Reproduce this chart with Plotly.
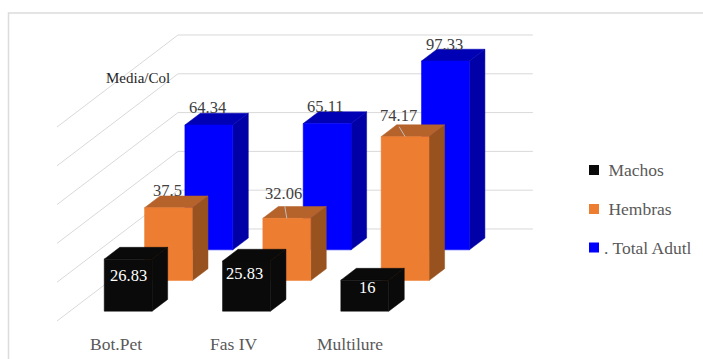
import plotly.graph_objects as go

# Chart data
categories = ["Bot.Pet", "Fas IV", "Multilure"]
machos = [26.83, 25.83, 16]
hembras = [37.5, 32.06, 74.17]
total_adultos = [64.34, 65.11, 97.33]
value_ticks = [0, 20, 40, 60, 80, 100]
legend_names = [" Machos", " Hembras", ". Total Adutl"]
value_axis_title = "Media/Col"

# Oblique projection of the 3D column chart: (category, depth, value) -> canvas units
ORIGIN_X, ORIGIN_Y = 57.0, 321.0
CAT_STEP = 118.3
DEPTH_DX, DEPTH_DY = 40.33, -30.67
VALUE_SCALE = 1.94


def project(cat, depth, value):
    return (ORIGIN_X + CAT_STEP * cat + DEPTH_DX * depth,
            ORIGIN_Y + DEPTH_DY * depth - VALUE_SCALE * value)


BAR_LEFT = 0.29
BAR_WIDTH = 0.405
BAR_GAP = 0.32
BAR_DEPTH = 0.385

# front, top, side colours for each series
series = [
    dict(values=machos, slot=0, colors=("#0a0a0a", "#0a0a0a", "#0a0a0a"),
         text="#ffffff", key="#0a0a0a"),
    dict(values=hembras, slot=1, colors=("#ed7d31", "#b5622b", "#97521f"),
         text="#404040", key="#ed7d31"),
    dict(values=total_adultos, slot=2, colors=("#0000ff", "#0000b4", "#0000a6"),
         text="#404040", key="#0000ff"),
]

# Nudges of the value labels from the centre of each column's front top edge
label_nudges = {
    0: [(0.7, 16.7), (-1.6, 12), (3, 7)],
    1: [(-0.7, -17), (-3, -25), (-6.5, -21.5)],
    2: [(-1, -18), (-1.6, -16.7), (-1, -16.7)],
}
# Leader lines (series slot, category) -> nudge of the line's upper end
leaders = {(1, 1): (-2, -12), (1, 2): (-6, -10)}
category_nudges = [0, 0, -3]

SERIF = "Liberation Serif"
fig = go.Figure()

# Wall gridlines: side wall then back wall at every value tick
grid_x, grid_y = [], []
for v in value_ticks:
    for cat, depth in [(0, 0), (0, 3), (3, 3)]:
        x, y = project(cat, depth, v)
        grid_x.append(x)
        grid_y.append(y)
    grid_x.append(None)
    grid_y.append(None)
fig.add_trace(go.Scatter(x=grid_x, y=grid_y, mode="lines", hoverinfo="skip",
                         line=dict(color="#d9d9d9", width=1), showlegend=False))


def add_face(points, color, name):
    xs = [p[0] for p in points] + [points[0][0]]
    ys = [p[1] for p in points] + [points[0][1]]
    fig.add_trace(go.Scatter(x=xs, y=ys, mode="lines", fill="toself", fillcolor=color,
                             line=dict(color=color, width=0.5), name=name,
                             hoverinfo="skip", showlegend=False))


annotations = []


def add_text(x, y, text, size=16.5, color="#404040"):
    annotations.append(dict(x=x, y=y, xref="x", yref="y", text=text, showarrow=False,
                            xanchor="center", yanchor="middle",
                            font=dict(family=SERIF, size=size, color=color)))


# Columns are painted from the back row forwards so nearer ones cover farther ones
for s in sorted(series, key=lambda item: -item["slot"]):
    front_col, top_col, side_col = s["colors"]
    d0 = s["slot"] + BAR_GAP
    d1 = d0 + BAR_DEPTH
    for i, v in enumerate(s["values"]):
        c0 = i + BAR_LEFT
        c1 = c0 + BAR_WIDTH
        name = f"{categories[i]} {s['slot']}"
        add_face([project(c1, d0, 0), project(c1, d1, 0), project(c1, d1, v), project(c1, d0, v)],
                 side_col, name)
        add_face([project(c0, d0, v), project(c1, d0, v), project(c1, d1, v), project(c0, d1, v)],
                 top_col, name)
        add_face([project(c0, d0, 0), project(c1, d0, 0), project(c1, d0, v), project(c0, d0, v)],
                 front_col, name)

# Value labels and their leader lines sit on top of every column
for s in series:
    for i, v in enumerate(s["values"]):
        x, y = project(i + BAR_LEFT + BAR_WIDTH / 2, s["slot"] + BAR_GAP, v)
        dx, dy = label_nudges[s["slot"]][i]
        add_text(x + dx, y + dy, f"{v:g}", color=s["text"])
        if (s["slot"], i) in leaders:
            lx, ly = leaders[(s["slot"], i)]
            fig.add_trace(go.Scatter(x=[x, x + lx], y=[y, y + ly], mode="lines",
                                     hoverinfo="skip", showlegend=False,
                                     line=dict(color="#bfbfbf", width=1)))

# Category labels along the front edge of the floor
for i, cat in enumerate(categories):
    x, _ = project(i + 0.5, 0, 0)
    add_text(x + category_nudges[i], 344, cat, size=17.5, color="#595959")

add_text(137.7, 77.5, value_axis_title, size=15, color="#262626")

# Legend keys and names on the right of the plot
for s, label, y in zip(series, legend_names, [170, 209, 247.5]):
    fig.add_trace(go.Scatter(x=[594], y=[y], mode="markers", hoverinfo="skip", showlegend=False,
                             marker=dict(symbol="square", size=10, color=s["key"])))
    annotations.append(dict(x=601.5, y=y, xref="x", yref="y", text=label, showarrow=False,
                            xanchor="left", yanchor="middle",
                            font=dict(family=SERIF, size=17.5, color="#595959")))

fig.update_layout(
    width=703, height=359, margin=dict(l=0, r=0, t=0, b=0),
    paper_bgcolor="#ffffff", plot_bgcolor="#ffffff", showlegend=False,
    xaxis=dict(range=[0, 703], visible=False, fixedrange=True),
    yaxis=dict(range=[359, 0], visible=False, fixedrange=True),
    annotations=annotations,
    # Chart frame: only its top and left edges fall inside the canvas
    shapes=[dict(type="path", path="M 8.5 359 L 8.5 13 L 703 13", xref="x", yref="y",
                 line=dict(color="#dcdcdc", width=1.5))],
)

fig.write_html("out.html", config=dict(displayModeBar=False))
